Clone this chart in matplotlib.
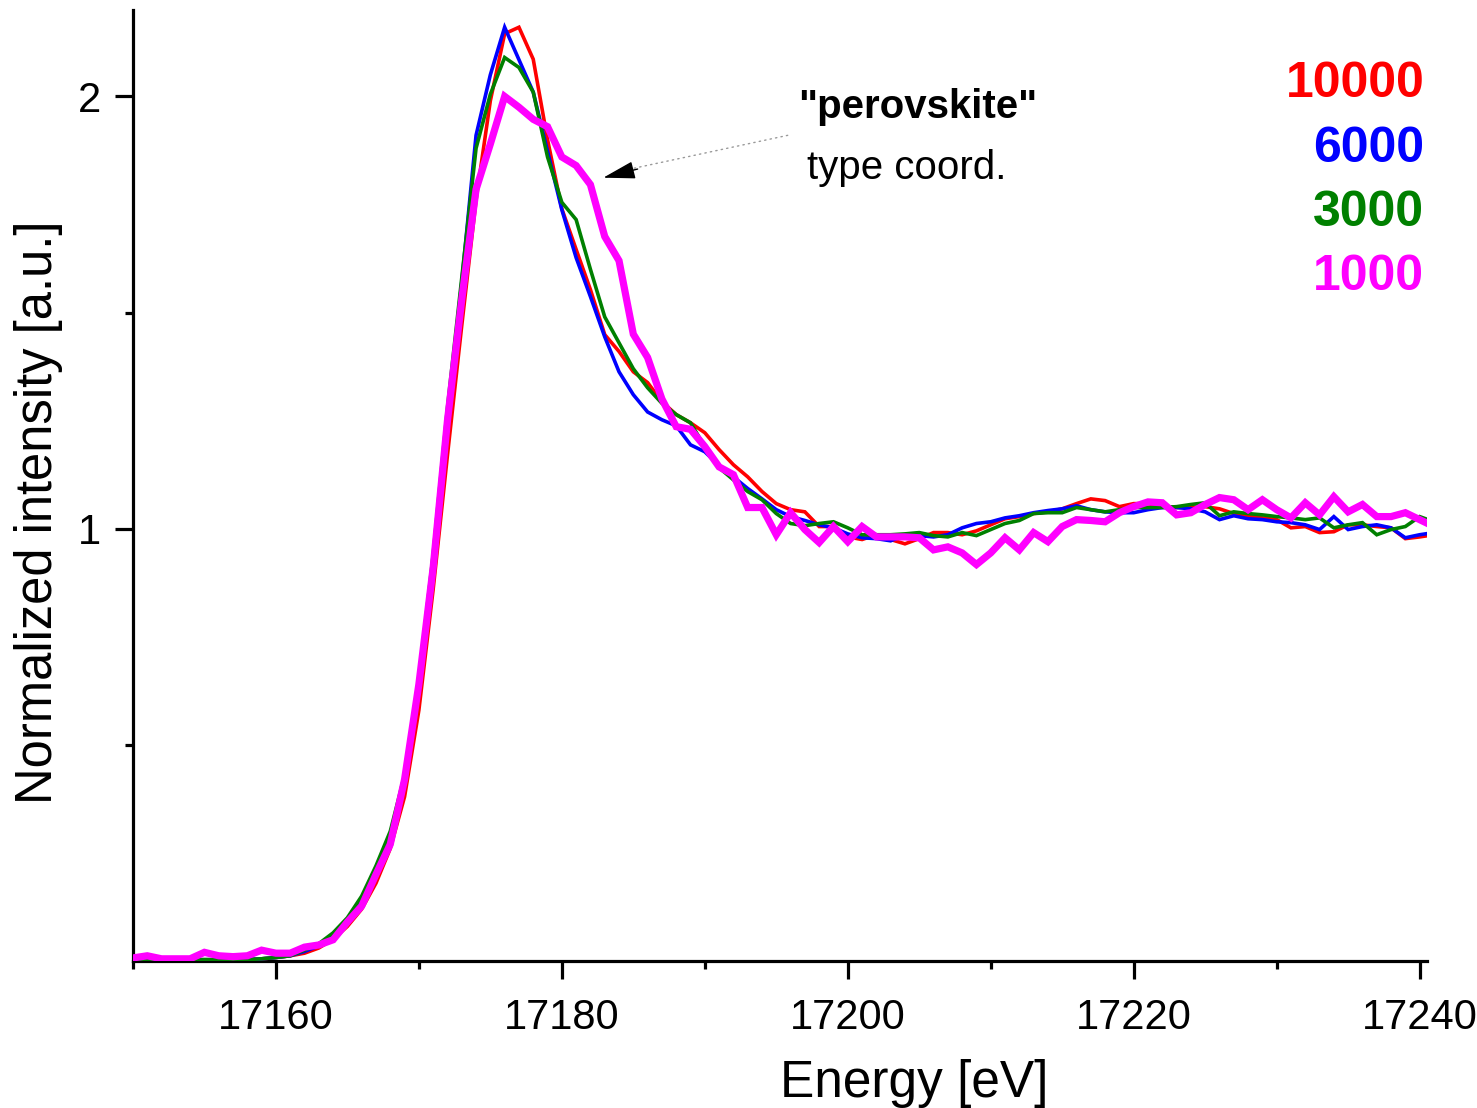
import numpy as np
import matplotlib
matplotlib.use("Agg")
import matplotlib.pyplot as plt
from matplotlib.ticker import FixedLocator

plt.rcParams['font.family'] = ['Liberation Sans', 'DejaVu Sans']

energy = list(range(17150, 17242))

baseline = [0.003] * 9 + [0.005, 0.008, 0.012]  # 17150..17161

s10000 = baseline + [
    0.018, 0.03, 0.05, 0.08, 0.12, 0.18, 0.26, 0.38, 0.58, 0.86,   # 17162-17171
    1.17, 1.47, 1.76, 1.99, 2.145, 2.16, 2.086, 1.90, 1.74, 1.646,  # 17172-17181
    1.553, 1.449, 1.41, 1.363, 1.338, 1.294, 1.264, 1.245, 1.222, 1.183,  # 17182-17191
    1.148, 1.12, 1.086, 1.058, 1.044, 1.039, 1.005, 1.005, 0.981, 0.975,  # 17192-17201
    0.986, 0.975, 0.965, 0.977, 0.991, 0.991, 0.986, 0.995, 1.009, 1.023,  # 17202-17211
    1.028, 1.035, 1.039, 1.046, 1.058, 1.069, 1.065, 1.051, 1.058, 1.058,  # 17212-17221
    1.051, 1.049, 1.049, 1.051, 1.046, 1.035, 1.030, 1.025, 1.021, 1.002,  # 17222-17231
    1.005, 0.991, 0.993, 1.009, 1.009, 1.005, 1.002, 0.977, 0.981, 0.986]  # 17232-17241

s6000 = baseline + [
    0.022, 0.035, 0.06, 0.095, 0.14, 0.21, 0.29, 0.42, 0.64, 0.93,
    1.26, 1.57, 1.91, 2.05, 2.16, 2.085, 2.01, 1.873, 1.738, 1.627,
    1.537, 1.444, 1.363, 1.31, 1.27, 1.252, 1.238, 1.194, 1.178, 1.146,
    1.12, 1.093, 1.069, 1.044, 1.028, 1.019, 1.009, 1.002, 0.988, 0.979,
    0.977, 0.972, 0.986, 0.984, 0.981, 0.986, 1.002, 1.012, 1.016, 1.025,
    1.030, 1.037, 1.042, 1.046, 1.053, 1.044, 1.039, 1.037, 1.037, 1.044,
    1.049, 1.049, 1.046, 1.039, 1.021, 1.030, 1.023, 1.021, 1.016, 1.014,
    1.009, 0.998, 1.028, 0.998, 1.005, 1.009, 1.002, 0.979, 0.986, 0.991]

s3000 = baseline + [
    0.025, 0.04, 0.065, 0.10, 0.15, 0.22, 0.30, 0.43, 0.65, 0.94,
    1.28, 1.58, 1.88, 2.005, 2.09, 2.067, 2.01, 1.86, 1.755, 1.715,
    1.60, 1.49, 1.43, 1.37, 1.326, 1.29, 1.264, 1.245, 1.19, 1.141,
    1.113, 1.086, 1.067, 1.035, 1.012, 1.007, 1.012, 1.016, 1.002, 0.986,
    0.986, 0.986, 0.988, 0.991, 0.984, 0.981, 0.991, 0.984, 0.998, 1.012,
    1.019, 1.035, 1.037, 1.037, 1.049, 1.044, 1.039, 1.044, 1.049, 1.049,
    1.049, 1.051, 1.056, 1.060, 1.030, 1.039, 1.035, 1.032, 1.028, 1.025,
    1.021, 1.025, 1.002, 1.009, 1.014, 0.986, 0.998, 1.005, 1.028, 1.016]

s1000 = [
    0.007, 0.012, 0.005, 0.005, 0.005, 0.02, 0.012, 0.01, 0.012, 0.025,
    0.018, 0.018, 0.032, 0.037, 0.049, 0.09, 0.127, 0.20, 0.27, 0.42,
    0.64, 0.91, 1.25, 1.53, 1.785, 1.89, 2.0, 1.975, 1.947, 1.93,
    1.86, 1.84, 1.796, 1.676, 1.62, 1.45, 1.396, 1.30, 1.236, 1.23,
    1.19, 1.143, 1.125, 1.049, 1.049, 0.986, 1.037, 0.998, 0.968, 1.005,
    0.970, 1.005, 0.981, 0.981, 0.981, 0.979, 0.951, 0.958, 0.944, 0.917,
    0.944, 0.979, 0.951, 0.991, 0.970, 1.005, 1.021, 1.019, 1.016, 1.037,
    1.051, 1.062, 1.060, 1.032, 1.037, 1.056, 1.072, 1.067, 1.044, 1.067,
    1.044, 1.025, 1.060, 1.032, 1.074, 1.039, 1.056, 1.028, 1.028, 1.037,
    1.021, 1.005]

series_labels = ['10000', '6000', '3000', '1000']
series_colors = ['#ff0000', '#0000ff', '#008000', '#ff00ff']
series_widths = [2.6, 2.6, 2.6, 5.2]
series_data = [s10000, s6000, s3000, s1000]

xticks_major = [17160, 17180, 17200, 17220, 17240]
xticks_minor = [17150, 17170, 17190, 17210, 17230]
yticks_major = [1, 2]
yticks_minor = [0.5, 1.5]

fig = plt.figure(figsize=(14.77, 11.08), dpi=100)
ax = fig.add_axes([0.090, 0.1327, 0.876, 0.8583])

for data, col, lw in zip(series_data, series_colors, series_widths):
    ax.plot(energy, data, color=col, lw=lw, solid_joinstyle='miter', zorder=3)

ax.set_xlim(17150, 17240.5)
ax.set_ylim(0, 2.2)

for side in ['top', 'right']:
    ax.spines[side].set_visible(False)
for side in ['left', 'bottom']:
    ax.spines[side].set_linewidth(2.3)

ax.xaxis.set_major_locator(FixedLocator(xticks_major))
ax.xaxis.set_minor_locator(FixedLocator(xticks_minor))
ax.yaxis.set_major_locator(FixedLocator(yticks_major))
ax.yaxis.set_minor_locator(FixedLocator(yticks_minor))
ax.set_xticklabels([str(t) for t in xticks_major])
ax.set_yticklabels([str(t) for t in yticks_major])
ax.tick_params(which='major', direction='out', length=13, width=2.3, labelsize=30)
ax.tick_params(axis='x', which='major', pad=14)
ax.tick_params(axis='y', which='major', pad=10)
ax.tick_params(which='minor', direction='out', length=6, width=2.3)

ax.set_xlabel('Energy [eV]', fontsize=37)
ax.xaxis.set_label_coords(0.604, -0.103)
ax.set_ylabel('Normalized intensity [a.u.]', fontsize=36.5)
ax.yaxis.set_label_coords(-0.054, 0.472)

ylocs = [0.922, 0.854, 0.787, 0.719]
for lab, col, yy in zip(series_labels, series_colors, ylocs):
    ax.text(0.998, yy, lab, color=col, fontsize=36, fontweight='bold',
            ha='right', va='center', transform=ax.transAxes)

ax.text(17204.9, 1.975, '"perovskite"', fontsize=29, fontweight='bold', ha='center', va='center')
ax.text(17204.1, 1.835, 'type coord.', fontsize=29, ha='center', va='center')

ax.annotate('', xy=(17184.5, 1.83), xytext=(17195.8, 1.91),
            arrowprops=dict(arrowstyle='-', color='#999999', lw=1.0, linestyle=(0, (1, 3)),
                            shrinkA=0, shrinkB=0))
ax.annotate('', xy=(17182.9, 1.812), xytext=(17185.3, 1.832),
            arrowprops=dict(arrowstyle='-|>,head_length=2.0,head_width=0.55', color='black', lw=1.0,
                            shrinkA=0, shrinkB=0))

fig.savefig('out.png', dpi=100)
